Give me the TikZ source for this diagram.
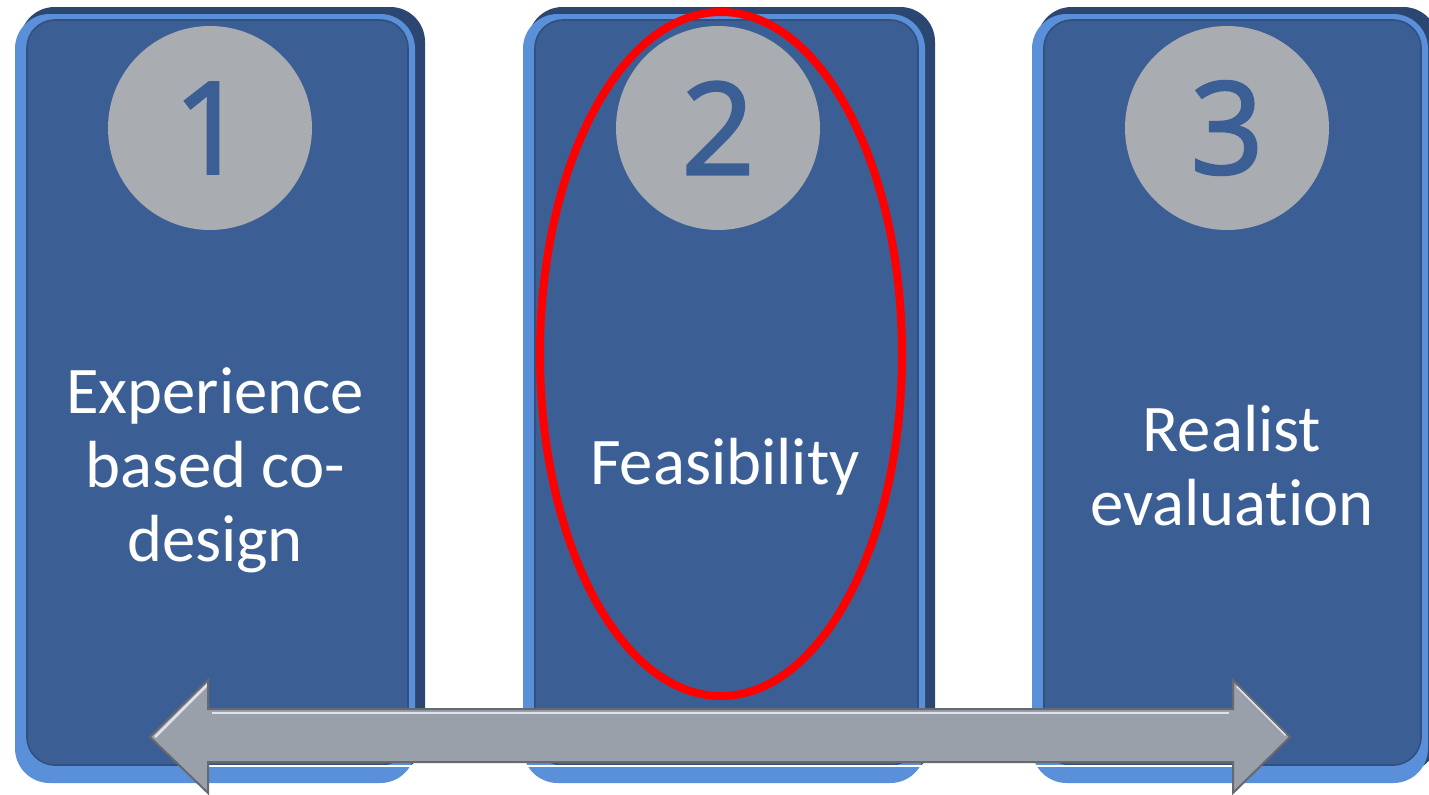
\documentclass[tikz,border=0pt]{standalone}
\usepackage{fontspec}
\setmainfont{Carlito}[Ligatures=NoCommon]
\newfontfamily\digitfont{Open Sans}[FakeBold=2]
\usetikzlibrary{shapes.geometric}
\definecolor{facebl}{HTML}{3B5F94}
\definecolor{bevelbl}{HTML}{5A8FDA}
\definecolor{edgebl}{HTML}{2B4670}
\definecolor{discgray}{HTML}{A9ACB1}
\definecolor{shaftgray}{HTML}{9AA0AA}
\definecolor{shaftedge}{HTML}{66696E}
\definecolor{shaftlight}{HTML}{DCE2EE}
\tikzset{
  stageface/.style={fill=facebl, draw=edgebl!60!facebl, line width=1.2, rounded corners=21pt},
  stagedisc/.style={circle, fill=discgray, minimum size=153pt, inner sep=0pt,
    text=facebl, font=\digitfont\fontsize{96}{96}\selectfont},
  stagelabel/.style={text=white, align=center, font=\fontsize{50}{55.5}\selectfont},
  focusring/.style={draw=red, line width=6},
}
% one raised tile spanning x = #1 .. #2
\newcommand\stagetile[2]{%
  \fill[edgebl, rounded corners=26pt] (#1+5,7) rectangle (#2,772);
  \fill[bevelbl, rounded corners=26pt] (#1,14) rectangle (#2-10,783);
  \path[stageface] (#1+12,20) rectangle (#2-17,765);
}
\begin{document}
\begin{tikzpicture}[x=0.75pt, y=-0.75pt]
  \useasboundingbox (0,0) rectangle (1429,794);
  \fill[white] (0,0) rectangle (1429,794);

  \stagetile{15}{425}
  \stagetile{523}{935}
  \stagetile{1032}{1438}

  \node[stagedisc] (disc1) at (210,128) {1};
  \node[stagedisc] (disc2) at (718,128) {2};
  \node[stagedisc] (disc3) at (1227,128) {3};

  \node[stagelabel] (lab1) at (215,470) {Experience\\based co-\\design};
  \node[stagelabel] (lab2) at (725,467) {Feasibility};
  \node[stagelabel] (lab3) at (1232,466) {Realist\\evaluation};

  \node[focusring, ellipse, minimum width=271.5pt, minimum height=513pt, inner sep=0pt]
    (ring) at (721,354) {};

  % two-headed timeline arrow along the bottom
  \fill[shaftgray] (150,737) -- (208,680) -- (208,709) -- (1233,709) -- (1233,680)
    -- (1290,737) -- (1233,793) -- (1233,762) -- (208,762) -- (208,793) -- cycle;
  \draw[shaftlight, line width=2] (212,713) -- (1229,713);
  \draw[white, line width=2] (208,766) -- (1233,766);
  \draw[shaftlight, line width=2] (155,737) -- (208,684);
  \draw[shaftlight, line width=2] (1237,686) -- (1286,735);
  \draw[shaftedge, line width=1.5, line join=miter]
    (150,737) -- (208,680) -- (208,709) -- (1233,709) -- (1233,680)
    -- (1290,737) -- (1233,793) -- (1233,762) -- (208,762) -- (208,793) -- cycle;
\end{tikzpicture}
\end{document}
